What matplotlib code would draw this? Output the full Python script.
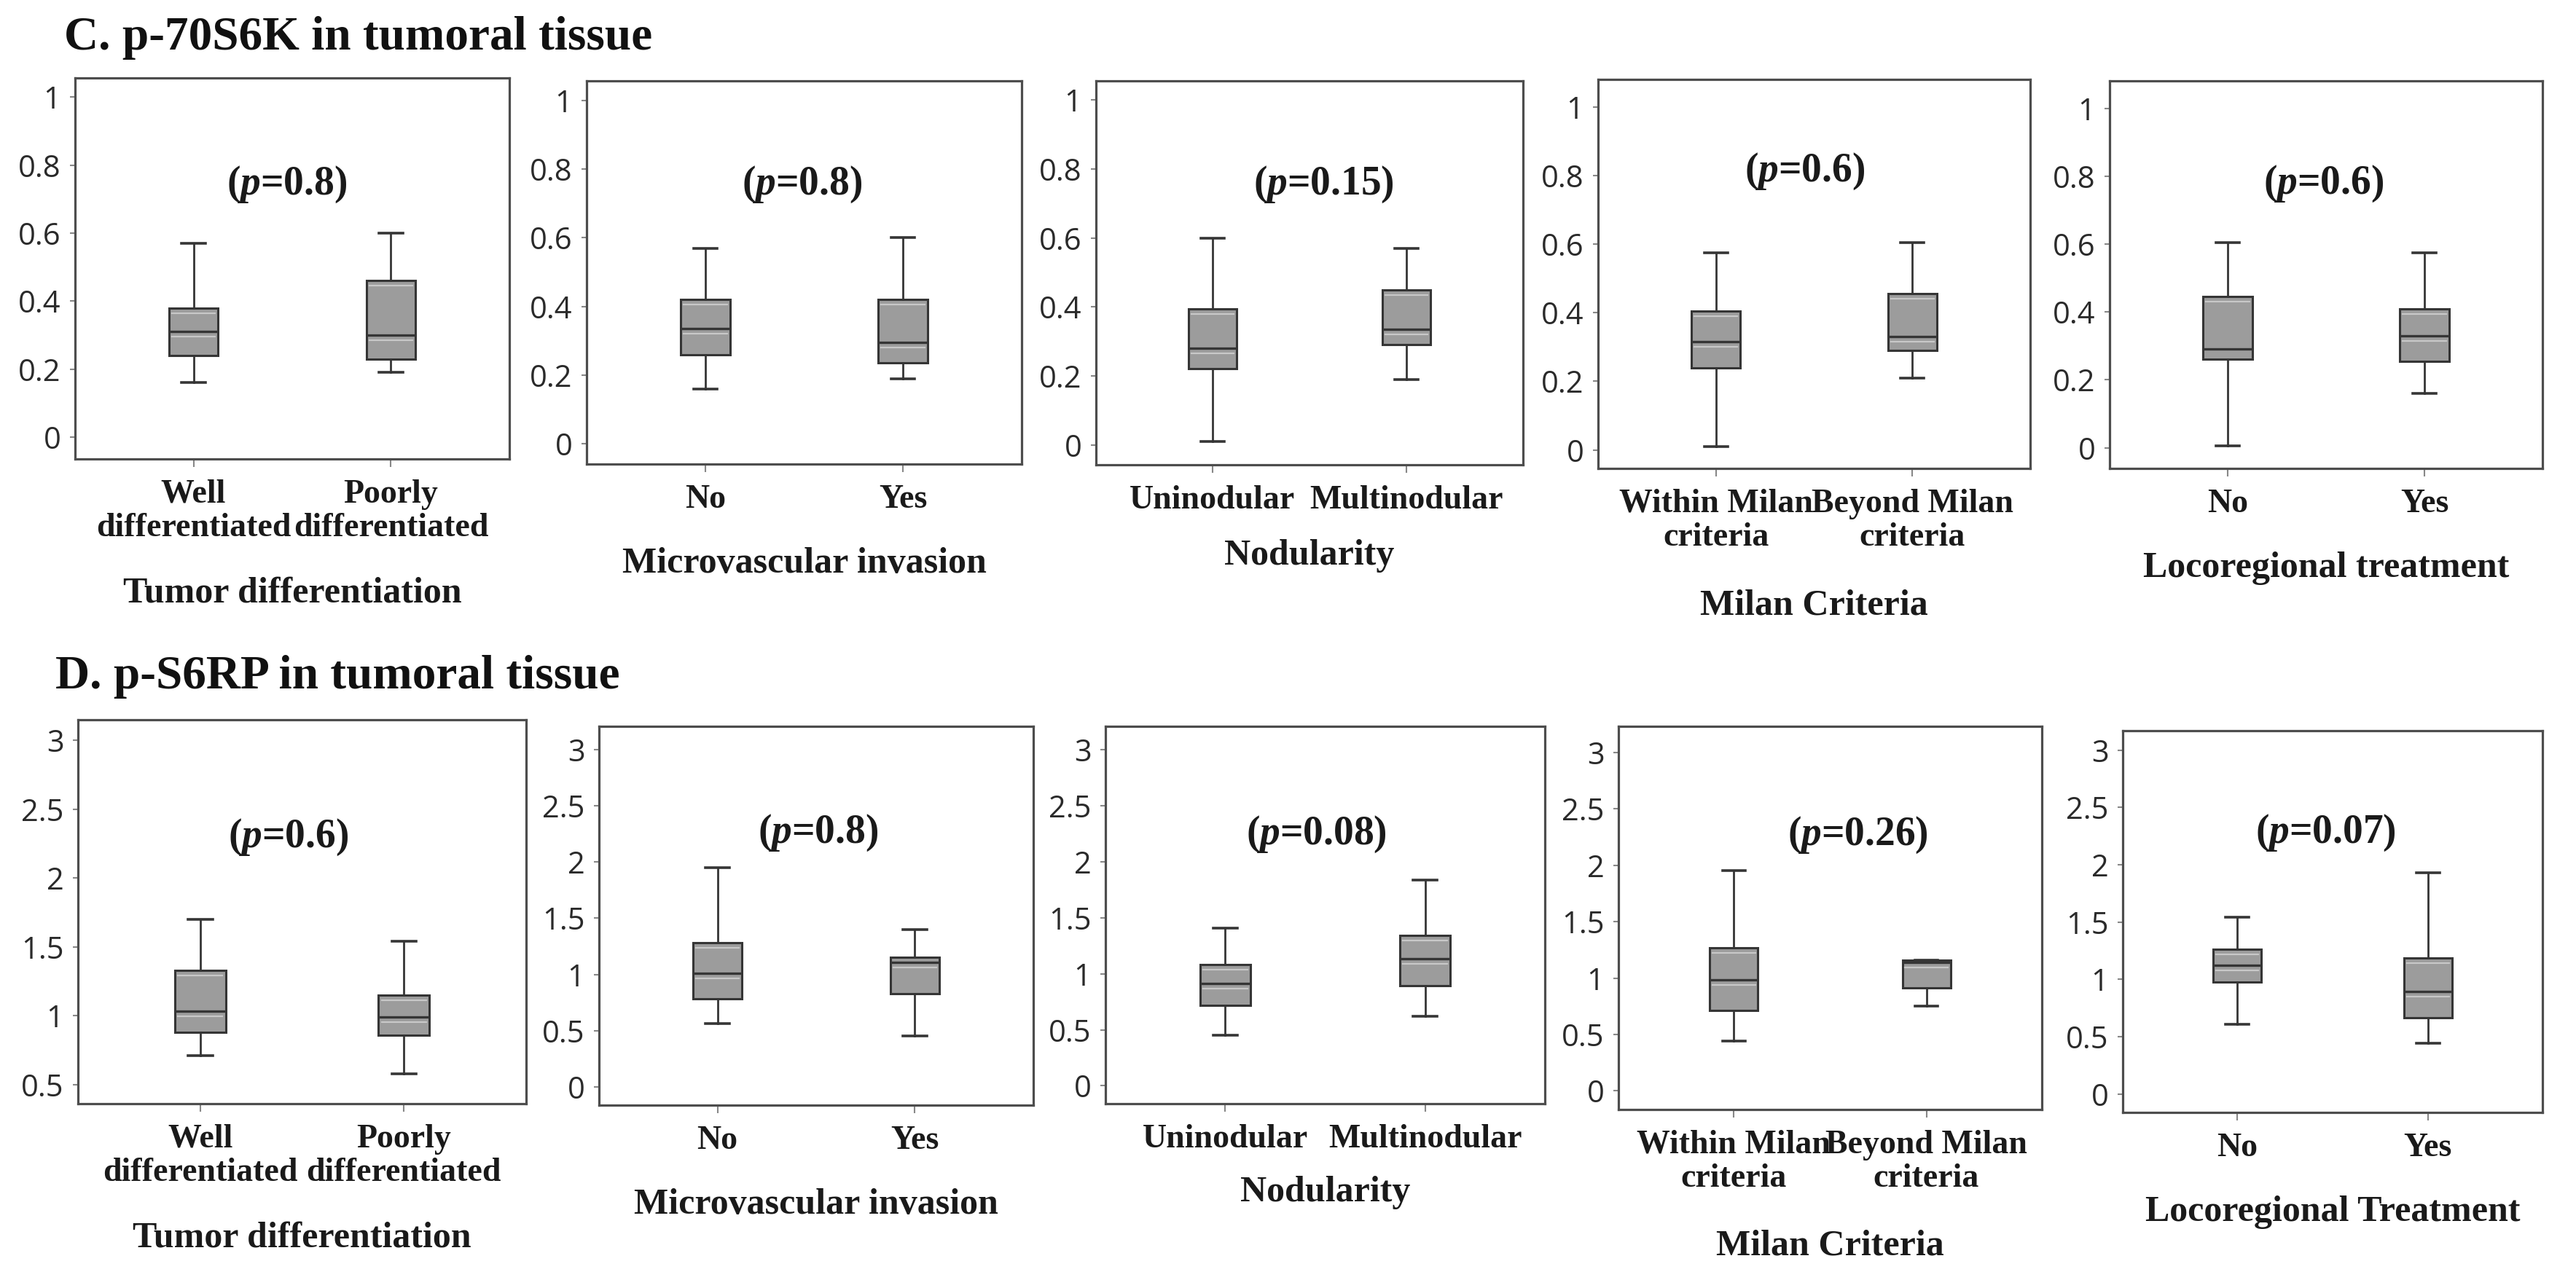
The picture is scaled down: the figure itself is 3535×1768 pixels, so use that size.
import matplotlib.pyplot as plt
from matplotlib.transforms import offset_copy

plt.rcParams['mathtext.fontset'] = 'custom'
plt.rcParams['mathtext.rm'] = 'Liberation Serif:bold'
plt.rcParams['mathtext.it'] = 'Liberation Serif:italic:bold'

# each group: [whisker low, Q1, median, Q3, whisker high]
# C. p-70S6K in tumoral tissue
k_tumor = [[0.16, 0.24, 0.31, 0.38, 0.57], [0.19, 0.23, 0.30, 0.46, 0.60]]
k_micro = [[0.16, 0.26, 0.335, 0.42, 0.57], [0.19, 0.235, 0.295, 0.42, 0.60]]
k_nodul = [[0.01, 0.22, 0.28, 0.395, 0.60], [0.19, 0.29, 0.335, 0.45, 0.57]]
k_milan = [[0.01, 0.24, 0.315, 0.405, 0.575], [0.21, 0.29, 0.33, 0.455, 0.605]]
k_loco = [[0.005, 0.26, 0.29, 0.445, 0.605], [0.16, 0.255, 0.33, 0.41, 0.575]]

# D. p-S6RP in tumoral tissue
s_tumor = [[0.71, 0.88, 1.03, 1.33, 1.70], [0.575, 0.86, 0.99, 1.15, 1.54]]
s_micro = [[0.56, 0.785, 1.01, 1.28, 1.95], [0.45, 0.83, 1.11, 1.155, 1.40]]
s_nodul = [[0.45, 0.72, 0.915, 1.085, 1.41], [0.62, 0.895, 1.135, 1.345, 1.84]]
s_milan = [[0.44, 0.71, 0.985, 1.265, 1.95], [0.75, 0.91, 1.14, 1.16, 1.16]]
s_loco = [[0.61, 0.975, 1.12, 1.265, 1.545], [0.44, 0.665, 0.895, 1.185, 1.93]]

k_pvalues = ['0.8', '0.8', '0.15', '0.6', '0.6']
s_pvalues = ['0.6', '0.8', '0.08', '0.26', '0.07']

group_labels = [['Well\ndifferentiated', 'Poorly\ndifferentiated'],
                ['No', 'Yes'],
                ['Uninodular', 'Multinodular'],
                ['Within Milan\ncriteria', 'Beyond Milan\ncriteria'],
                ['No', 'Yes']]
k_xlabels = ['Tumor differentiation', 'Microvascular invasion', 'Nodularity',
             'Milan Criteria', 'Locoregional treatment']
s_xlabels = ['Tumor differentiation', 'Microvascular invasion', 'Nodularity',
             'Milan Criteria', 'Locoregional Treatment']

k_yticks = [0, 0.2, 0.4, 0.6, 0.8, 1]
k_yticklabels = ['0', '0.2', '0.4', '0.6', '0.8', '1']
s_yticks_first = [0.5, 1, 1.5, 2, 2.5, 3]
s_yticklabels_first = ['0.5', '1', '1.5', '2', '2.5', '3']
s_yticks = [0, 0.5, 1, 1.5, 2, 2.5, 3]
s_yticklabels = ['0', '0.5', '1', '1.5', '2', '2.5', '3']

W, H = 3535, 1768

# layout in pixels: left, right, top, bottom, ylim, p-text position (axes fraction), labelpad
top_row = [
    (103, 699, 107, 630, (-0.064, 1.056), (0.487, 0.72), 33),
    (805, 1402, 111, 637, (-0.059, 1.057), (0.496, 0.73), 32),
    (1504, 2090, 111, 638, (-0.058, 1.056), (0.534, 0.73), 23),
    (2193, 2786, 109, 643, (-0.054, 1.08), (0.479, 0.763), 36),
    (2895, 3489, 111, 643, (-0.061, 1.081), (0.494, 0.734), 32),
]
bottom_row = [
    (107, 722, 988, 1515, (0.36, 3.15), (0.469, 0.694), 33),
    (822, 1418, 997, 1517, (-0.165, 3.21), (0.504, 0.719), 32),
    (1517, 2120, 997, 1515, (-0.16, 3.21), (0.48, 0.713), 21),
    (2221, 2802, 997, 1523, (-0.165, 3.23), (0.566, 0.717), 35),
    (2913, 3489, 1003, 1527, (-0.162, 3.17), (0.483, 0.733), 32),
]

serif = 'Liberation Serif'
text_color = '#1a1a1a'
box_face = '#9c9c9c'
line_color = '#353535'
shine = '#c8c8c8'


def draw_panel(fig, rect, groups, labels, xlabel, pval, yticks, yticklabels):
    left, right, top, bottom, ylim, ppos, lpad = rect
    ax = fig.add_axes([left / W, 1 - bottom / H, (right - left) / W, (bottom - top) / H])
    stats = []
    for g, lab in zip(groups, labels):
        stats.append({'whislo': g[0], 'q1': g[1], 'med': g[2], 'q3': g[3],
                      'whishi': g[4], 'fliers': [], 'label': lab})
    ax.bxp(stats, positions=[1, 2], widths=0.25, capwidths=0.12,
           patch_artist=True, showfliers=False,
           boxprops=dict(facecolor=box_face, edgecolor=line_color, linewidth=2.2),
           medianprops=dict(color=line_color, linewidth=2.4, zorder=3),
           whiskerprops=dict(color=line_color, linewidth=2.0),
           capprops=dict(color=line_color, linewidth=2.6))
    # light shading bands just under the box top and under the median
    below = offset_copy(ax.transData, fig=fig, y=-7, units='dots')
    for pos, g in zip([1, 2], groups):
        if g[3] - g[2] > 0.03 * (ylim[1] - ylim[0]):
            ax.plot([pos - 0.11, pos + 0.11], [g[3], g[3]], color=shine,
                    linewidth=1.6, transform=below, zorder=2.5)
        if g[2] - g[1] > 0.03 * (ylim[1] - ylim[0]):
            ax.plot([pos - 0.11, pos + 0.11], [g[2], g[2]], color=shine,
                    linewidth=1.6, transform=below, zorder=2.5)
    ax.set_xlim(0.4, 2.6)
    ax.set_ylim(*ylim)
    ax.set_yticks(yticks)
    ax.set_yticklabels(yticklabels, fontfamily='Open Sans', fontsize=30, color='#2a2a2a')
    ax.set_xticks([1, 2])
    ax.set_xticklabels(labels, fontfamily=serif, fontweight='bold', fontsize=33,
                       color=text_color, linespacing=1.12)
    ax.tick_params(axis='y', length=5, width=1.5, color='#888888', pad=9)
    ax.tick_params(axis='x', length=8, width=1.5, color='#888888', pad=12)
    for sp in ax.spines.values():
        sp.set_color('#4d4d4d')
        sp.set_linewidth(2.3)
    ax.set_xlabel(xlabel, fontfamily=serif, fontweight='bold', fontsize=36,
                  color=text_color, labelpad=lpad)
    ax.text(ppos[0], ppos[1], '($\\it{p}$=' + pval + ')', transform=ax.transAxes,
            ha='center', va='center', fontfamily=serif, fontweight='bold',
            fontsize=40, color=text_color)
    return ax


fig = plt.figure(figsize=(W / 100, H / 100), dpi=100)

k_groups = [k_tumor, k_micro, k_nodul, k_milan, k_loco]
s_groups = [s_tumor, s_micro, s_nodul, s_milan, s_loco]

for i in range(5):
    draw_panel(fig, top_row[i], k_groups[i], group_labels[i], k_xlabels[i],
               k_pvalues[i], k_yticks, k_yticklabels)
    if i == 0:
        draw_panel(fig, bottom_row[i], s_groups[i], group_labels[i], s_xlabels[i],
                   s_pvalues[i], s_yticks_first, s_yticklabels_first)
    else:
        draw_panel(fig, bottom_row[i], s_groups[i], group_labels[i], s_xlabels[i],
                   s_pvalues[i], s_yticks, s_yticklabels)

fig.text(88 / W, 1 - 68 / H, 'C. p-70S6K in tumoral tissue', fontfamily=serif,
         fontweight='bold', fontsize=47, color='#111111', va='baseline')
fig.text(76 / W, 1 - 945 / H, 'D. p-S6RP in tumoral tissue', fontfamily=serif,
         fontweight='bold', fontsize=47, color='#111111', va='baseline')

fig.savefig('out.png', dpi=100)
